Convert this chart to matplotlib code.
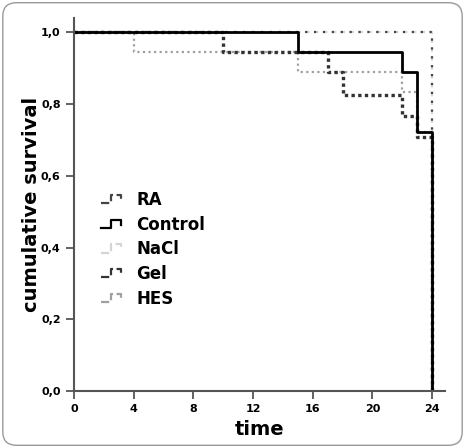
import matplotlib
matplotlib.use('Agg')
from matplotlib import pyplot as plt
from matplotlib.lines import Line2D
from matplotlib.legend_handler import HandlerBase
from matplotlib.patches import FancyBboxPatch

# step curves: event times and survival after each step
ra_t = [0, 24]
ra_s = [1.0, 0.0]
control_t = [0, 15, 22, 23, 24]
control_s = [1.0, 0.944, 0.889, 0.722, 0.0]
nacl_t = [0, 24]
nacl_s = [1.0, 0.0]
gel_t = [0, 10, 17, 18, 22, 23, 24]
gel_s = [1.0, 0.944, 0.889, 0.824, 0.766, 0.708, 0.0]
hes_t = [0, 4, 15, 22, 23, 24]
hes_s = [1.0, 0.944, 0.889, 0.833, 0.722, 0.0]

x_ticks = [0, 4, 8, 12, 16, 20, 24]
y_ticks = [0.0, 0.2, 0.4, 0.6, 0.8, 1.0]
y_labels = ['0,0', '0,2', '0,4', '0,6', '0,8', '1,0']

styles = {
    'RA': dict(color='#444444', lw=1.6, ls=(0, (1, 3))),
    'Control': dict(color='black', lw=2.0, ls='-'),
    'NaCl': dict(color='#d4d4d4', lw=1.6, ls=(0, (2, 2))),
    'Gel': dict(color='#333333', lw=2.4, ls=(0, (1, 1))),
    'HES': dict(color='#a0a0a0', lw=1.6, ls=(0, (1, 1.5))),
}
curves = [('NaCl', nacl_t, nacl_s), ('HES', hes_t, hes_s), ('RA', ra_t, ra_s),
          ('Gel', gel_t, gel_s), ('Control', control_t, control_s)]
legend_order = ['RA', 'Control', 'NaCl', 'Gel', 'HES']


class StepHandler(HandlerBase):
    def create_artists(self, legend, orig_handle, xdescent, ydescent,
                       width, height, fontsize, trans):
        w, h = width, height
        x0, y0 = -xdescent, -ydescent
        xs = [x0, x0 + 0.45 * w, x0 + 0.45 * w, x0 + 0.9 * w, x0 + 0.9 * w]
        ys = [y0 + 0.15 * h, y0 + 0.15 * h, y0 + 0.85 * h, y0 + 0.85 * h,
              y0 + 0.4 * h]
        lw = min(orig_handle.get_linewidth(), 1.6)
        ln = Line2D(xs, ys, color=orig_handle.get_color(), lw=lw,
                    ls=orig_handle.get_linestyle(), transform=trans)
        return [ln]


fig = plt.figure(figsize=(4.65, 4.48), dpi=100)
ax = fig.add_axes([0.159, 0.127, 0.798, 0.833])

for name, t, s in curves:
    ax.step(t, s, where='post', **styles[name])

ax.set_xlim(0, 24.87)
ax.set_ylim(0, 1.04)
ax.set_xticks(x_ticks)
ax.set_yticks(y_ticks)
ax.set_yticklabels(y_labels)
for sp in ['top', 'right']:
    ax.spines[sp].set_visible(False)
for sp in ['left', 'bottom']:
    ax.spines[sp].set_color('#555555')
    ax.spines[sp].set_linewidth(1.5)
ax.tick_params(colors='#555555', width=1.3, length=6, labelcolor='black',
               labelsize=8)
for lab in ax.get_xticklabels() + ax.get_yticklabels():
    lab.set_fontweight('bold')

ax.set_xlabel('time', fontsize=14, fontweight='bold', labelpad=4)
ax.set_ylabel('cumulative survival', fontsize=14, fontweight='bold', labelpad=0)

handles = [Line2D([], [], **styles[n]) for n in legend_order]
leg = ax.legend(handles, legend_order, loc='upper left',
                bbox_to_anchor=(86 / 465, 1 - 176 / 448),
                bbox_transform=fig.transFigure, frameon=False,
                handler_map={Line2D: StepHandler()},
                prop={'size': 12, 'weight': 'bold'}, handlelength=1.3,
                labelspacing=0.4, handletextpad=0.8)

border = FancyBboxPatch((0.006, 0.006), 0.988, 0.988, transform=fig.transFigure,
                        boxstyle='round,pad=0,rounding_size=0.03',
                        fc='none', ec='#999999', lw=1.0)
fig.patches.append(border)

fig.savefig('out.png', dpi=100)
